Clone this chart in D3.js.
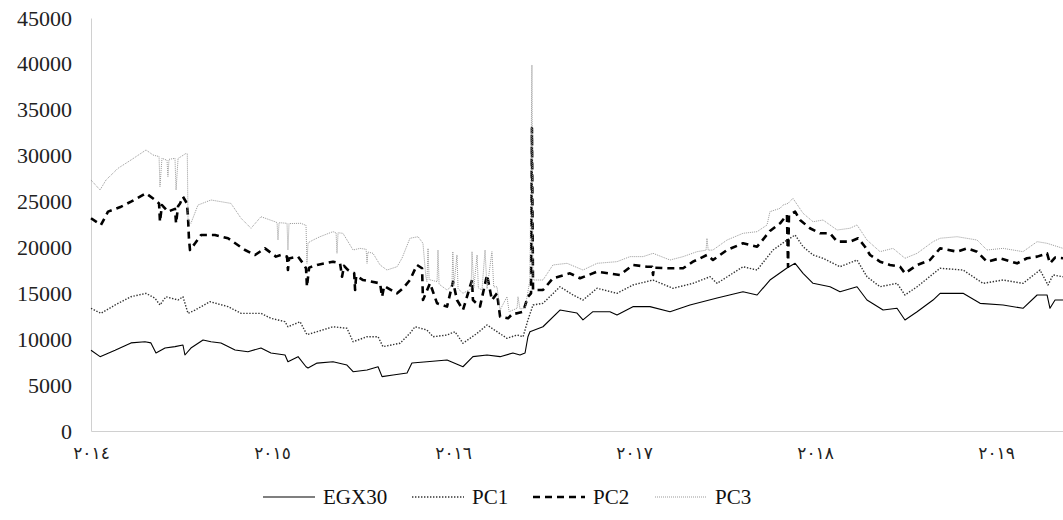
<!DOCTYPE html>
<html lang="en">
<head>
    <meta charset="UTF-8">
    <title>EGX30 and PCs</title>
    <style>
        body { margin: 0; background: #fff; }
        .ylab text { font-family: "Liberation Serif", "Times New Roman", serif; font-size: 22px; fill: #222; }
        .xlab text { font-family: "DejaVu Sans", sans-serif; font-size: 17px; fill: #222; letter-spacing: 3.5px; }
        .legend text { font-family: "Liberation Serif", "Times New Roman", serif; font-size: 21px; fill: #111; }
    </style>
</head>
<body>
<div id="chart"></div>
<script src="https://d3js.org/d3.v7.min.js"></script>
<script>

// ticks
const yTicks = [0, 5000, 10000, 15000, 20000, 25000, 30000, 35000, 40000, 45000];
const yearTicks = [2014, 2015, 2016, 2017, 2018, 2019];
const yearLabels = ["٢٠١٤", "٢٠١٥", "٢٠١٦", "٢٠١٧", "٢٠١٨", "٢٠١٩"];

// EGX30 (decimal year, value)
const egxDates = [2014.000, 2014.050, 2014.133, 2014.221, 2014.298, 2014.331, 2014.359, 2014.409, 2014.464, 2014.508,
    2014.519, 2014.552, 2014.619, 2014.663, 2014.718, 2014.796, 2014.867, 2014.939, 2014.994, 2015.072,
    2015.088, 2015.144, 2015.188, 2015.199, 2015.249, 2015.337, 2015.414, 2015.448, 2015.525, 2015.586,
    2015.608, 2015.669, 2015.746, 2015.773, 2015.856, 2015.967, 2016.055, 2016.110, 2016.188, 2016.260,
    2016.331, 2016.370, 2016.398, 2016.414, 2016.425, 2016.497, 2016.591, 2016.685, 2016.718, 2016.773,
    2016.867, 2016.906, 2016.994, 2017.088, 2017.199, 2017.309, 2017.459, 2017.602, 2017.680, 2017.751,
    2017.845, 2017.890, 2017.934, 2017.989, 2018.083, 2018.138, 2018.232, 2018.287, 2018.376, 2018.453,
    2018.497, 2018.564, 2018.652, 2018.691, 2018.818, 2018.912, 2019.039, 2019.149, 2019.227, 2019.282,
    2019.298, 2019.326, 2019.370];
const egxValues = [8800, 8100, 8800, 9600, 9730, 9600, 8500, 9040, 9190, 9370,
    8280, 9040, 9920, 9730, 9590, 8830, 8640, 9040, 8500, 8280,
    7550, 8100, 7000, 6860, 7400, 7550, 7190, 6460, 6650, 7000,
    5920, 6100, 6320, 7410, 7550, 7740, 7000, 8100, 8280, 8100,
    8500, 8280, 8500, 10270, 10820, 11360, 13180, 12850, 12100, 13000,
    13000, 12640, 13550, 13550, 13000, 13730, 14490, 15180, 14820, 16450,
    17760, 18270, 17180, 16090, 15720, 15180, 15720, 14270, 13180, 13370,
    12100, 13000, 14270, 15000, 15000, 13910, 13730, 13370, 14820, 14820,
    13370, 14270, 14270];

// PC1
const pc1Dates = [2014.000, 2014.055, 2014.133, 2014.221, 2014.304, 2014.354, 2014.381, 2014.414, 2014.481, 2014.508,
    2014.536, 2014.575, 2014.657, 2014.757, 2014.829, 2014.939, 2014.994, 2015.072, 2015.088, 2015.155,
    2015.193, 2015.249, 2015.337, 2015.414, 2015.448, 2015.525, 2015.586, 2015.613, 2015.707, 2015.762,
    2015.790, 2015.856, 2015.890, 2015.967, 2016.011, 2016.055, 2016.133, 2016.188, 2016.243, 2016.298,
    2016.354, 2016.387, 2016.414, 2016.442, 2016.497, 2016.591, 2016.663, 2016.718, 2016.796, 2016.906,
    2016.994, 2017.105, 2017.215, 2017.326, 2017.420, 2017.459, 2017.602, 2017.680, 2017.768, 2017.845,
    2017.862, 2017.890, 2017.934, 2017.989, 2018.044, 2018.138, 2018.232, 2018.287, 2018.359, 2018.453,
    2018.497, 2018.564, 2018.691, 2018.818, 2018.928, 2019.039, 2019.149, 2019.243, 2019.287, 2019.315,
    2019.370];
const pc1Values = [13370, 12820, 13730, 14630, 15000, 14460, 13730, 14630, 14270, 14630,
    12820, 13180, 14090, 13550, 12820, 12820, 12280, 11910, 11360, 11900,
    10500, 10820, 11360, 11190, 9730, 10270, 10270, 9190, 9560, 10640,
    11360, 11000, 10270, 10460, 10820, 9560, 10640, 11550, 10820, 10100,
    10460, 10270, 12100, 13730, 13910, 15720, 14820, 14270, 15550, 15000,
    15910, 16450, 15550, 16090, 16810, 16090, 17900, 17540, 19720, 20810,
    21000, 21360, 20080, 19180, 18820, 17900, 18630, 16810, 15720, 16090,
    14820, 15720, 17730, 17540, 16090, 16450, 16090, 17540, 15910, 17000,
    16810];

// PC2
const pc2Dates = [2014.000, 2014.055, 2014.094, 2014.166, 2014.221, 2014.304, 2014.354, 2014.376, 2014.381, 2014.392,
    2014.425, 2014.464, 2014.470, 2014.481, 2014.492, 2014.508, 2014.530, 2014.536, 2014.541, 2014.547,
    2014.575, 2014.608, 2014.685, 2014.757, 2014.851, 2014.906, 2014.961, 2015.022, 2015.050, 2015.083,
    2015.088, 2015.094, 2015.144, 2015.171, 2015.188, 2015.193, 2015.205, 2015.249, 2015.337, 2015.376,
    2015.387, 2015.398, 2015.420, 2015.454, 2015.459, 2015.465, 2015.503, 2015.597, 2015.608, 2015.620,
    2015.691, 2015.724, 2015.762, 2015.801, 2015.829, 2015.834, 2015.873, 2015.912, 2015.967, 2016.000,
    2016.022, 2016.055, 2016.105, 2016.110, 2016.149, 2016.188, 2016.215, 2016.243, 2016.260, 2016.304,
    2016.331, 2016.354, 2016.387, 2016.414, 2016.431, 2016.436, 2016.442, 2016.497, 2016.552, 2016.646,
    2016.702, 2016.796, 2016.923, 2016.994, 2017.072, 2017.100, 2017.105, 2017.110, 2017.182, 2017.271,
    2017.326, 2017.403, 2017.436, 2017.514, 2017.602, 2017.680, 2017.751, 2017.807, 2017.845, 2017.851,
    2017.856, 2017.890, 2017.917, 2017.972, 2018.028, 2018.083, 2018.122, 2018.193, 2018.238, 2018.276,
    2018.304, 2018.359, 2018.414, 2018.470, 2018.497, 2018.564, 2018.635, 2018.691, 2018.785, 2018.840,
    2018.895, 2018.950, 2019.022, 2019.116, 2019.171, 2019.227, 2019.282, 2019.298, 2019.326, 2019.370];
const pc2Values = [23180, 22450, 23900, 24440, 24990, 25900, 25170, 24800, 22800, 24620,
    23900, 24200, 22630, 24500, 24800, 25530, 24800, 23350, 21000, 19720,
    20450, 21360, 21360, 21000, 19720, 19180, 19900, 19000, 19180, 19000,
    17540, 18800, 19000, 18270, 17730, 15720, 17800, 18090, 18450, 18270,
    16810, 18000, 17540, 17200, 15360, 16900, 16450, 16090, 14630, 15800,
    15000, 15550, 16450, 18090, 17730, 14270, 16090, 13910, 13550, 16270,
    14270, 13180, 16450, 14270, 13550, 17000, 14270, 15000, 12460, 12280,
    12820, 12820, 13000, 14630, 15000, 33000, 15360, 15360, 16640, 17180,
    16640, 17360, 17000, 18090, 17900, 17900, 17000, 17800, 17730, 17730,
    18450, 19180, 18630, 19720, 20450, 20080, 21800, 22630, 23540, 17900,
    23540, 23900, 23000, 22090, 21540, 21540, 20630, 20630, 21000, 20080,
    19180, 18450, 18090, 17900, 17180, 18090, 18630, 19900, 19540, 19900,
    19540, 18450, 18820, 18270, 18820, 19000, 19360, 18270, 18900, 18820];

// PC3
const pc3Dates = [2014.000, 2014.050, 2014.083, 2014.149, 2014.221, 2014.304, 2014.343, 2014.376, 2014.381, 2014.392,
    2014.420, 2014.425, 2014.431, 2014.464, 2014.470, 2014.481, 2014.497, 2014.525, 2014.532, 2014.536,
    2014.552, 2014.591, 2014.663, 2014.773, 2014.829, 2014.884, 2014.939, 2015.017, 2015.028, 2015.033,
    2015.039, 2015.083, 2015.088, 2015.094, 2015.160, 2015.188, 2015.193, 2015.199, 2015.227, 2015.265,
    2015.337, 2015.354, 2015.359, 2015.365, 2015.392, 2015.448, 2015.486, 2015.520, 2015.525, 2015.530,
    2015.558, 2015.597, 2015.635, 2015.691, 2015.718, 2015.762, 2015.807, 2015.834, 2015.850, 2015.856,
    2015.862, 2015.868, 2015.912, 2015.917, 2015.923, 2015.967, 2015.994, 2015.999, 2016.005, 2016.022,
    2016.028, 2016.055, 2016.100, 2016.105, 2016.115, 2016.133, 2016.140, 2016.160, 2016.177, 2016.188,
    2016.215, 2016.225, 2016.243, 2016.260, 2016.298, 2016.310, 2016.354, 2016.359, 2016.370, 2016.398,
    2016.425, 2016.436, 2016.442, 2016.497, 2016.552, 2016.630, 2016.718, 2016.796, 2016.906, 2016.978,
    2017.050, 2017.105, 2017.199, 2017.271, 2017.348, 2017.398, 2017.403, 2017.410, 2017.436, 2017.514,
    2017.602, 2017.680, 2017.735, 2017.751, 2017.807, 2017.823, 2017.851, 2017.878, 2017.934, 2017.989,
    2018.044, 2018.122, 2018.193, 2018.232, 2018.287, 2018.359, 2018.431, 2018.497, 2018.564, 2018.652,
    2018.691, 2018.785, 2018.895, 2018.950, 2019.039, 2019.149, 2019.227, 2019.282, 2019.370];
const pc3Values = [27350, 26260, 27350, 28620, 29530, 30620, 30070, 29900, 26620, 29710,
    29500, 27710, 29600, 29710, 26260, 29700, 29890, 30250, 30200, 23000,
    22630, 24620, 25170, 24800, 23180, 22090, 23350, 22800, 22700, 20810,
    22700, 22630, 19720, 22600, 22630, 22400, 18270, 20500, 20810, 21170,
    21720, 21600, 19360, 21600, 21540, 19720, 19900, 19800, 18270, 19500,
    19360, 18090, 17540, 17900, 18820, 21000, 21170, 20450, 16800, 16270,
    19900, 16500, 16270, 19720, 16000, 15360, 15800, 19540, 15800, 19180,
    15500, 15000, 15500, 19540, 15600, 19180, 15600, 15360, 19720, 15500,
    19540, 15700, 15720, 13180, 14630, 13000, 13370, 14630, 13300, 13370,
    16450, 39880, 16450, 16450, 18090, 18270, 17540, 18270, 18450, 19000,
    19000, 19360, 18630, 19000, 19540, 19700, 21000, 19700, 19720, 20810,
    21540, 21720, 22450, 23900, 24260, 24620, 24800, 25350, 23720, 22800,
    22990, 21900, 22090, 22450, 20810, 19540, 19900, 18820, 19360, 20630,
    21000, 21170, 20810, 19720, 19900, 19540, 20630, 20450, 19900];

const series = [
    {name: "EGX30", dates: egxDates, values: egxValues, color: "#000", width: 1.1, dash: null},
    {name: "PC1", dates: pc1Dates, values: pc1Values, color: "#333", width: 1.4, dash: "1.4 1.6"},
    {name: "PC2", dates: pc2Dates, values: pc2Values, color: "#000", width: 2.6, dash: "7 5"},
    {name: "PC3", dates: pc3Dates, values: pc3Values, color: "#999", width: 1, dash: "1 1"}
];

const W = 1063, H = 520;
const margin = {top: 18, right: 0, bottom: 89, left: 91};
const width = W - margin.left - margin.right,
      height = H - margin.top - margin.bottom;

const svg = d3.select("#chart")
  .append("svg")
    .attr("width", W)
    .attr("height", H)
  .append("g")
    .attr("transform", `translate(${margin.left},${margin.top})`);

const x = d3.scaleLinear().domain([2014, 2019.37]).range([0, width]);
const y = d3.scaleLinear().domain([0, 45000]).range([height, 0]);

// Y axis
const yAxis = svg.append("g")
    .attr("class", "ylab")
    .call(d3.axisLeft(y).tickValues(yTicks).tickFormat(d3.format("d")).tickSize(0).tickPadding(19));
yAxis.select(".domain").attr("stroke", "#d0d0d0");

// X axis
const xAxis = svg.append("g")
    .attr("class", "xlab")
    .attr("transform", `translate(0,${height})`)
    .call(d3.axisBottom(x).tickValues(yearTicks).tickFormat((d, i) => yearLabels[i]).tickSize(0).tickPadding(16));
xAxis.select(".domain").attr("stroke", "#d0d0d0");
xAxis.selectAll("text").attr("direction", "ltr");

// lines
series.forEach(s => {
    const pts = s.dates.map((d, i) => [d, s.values[i]]);
    svg.append("path")
        .datum(pts)
        .attr("fill", "none")
        .attr("stroke", s.color)
        .attr("stroke-width", s.width)
        .attr("stroke-dasharray", s.dash)
        .attr("stroke-linejoin", "round")
        .attr("d", d3.line().x(d => x(d[0])).y(d => y(d[1])));
});

// legend
const legendX = [263, 412, 533, 655];
const legend = d3.select("svg").append("g").attr("class", "legend");
series.forEach((s, i) => {
    legend.append("line")
        .attr("x1", legendX[i]).attr("x2", legendX[i] + 52)
        .attr("y1", 497).attr("y2", 497)
        .attr("stroke", s.color)
        .attr("stroke-width", s.width)
        .attr("stroke-dasharray", s.dash);
    legend.append("text")
        .attr("x", legendX[i] + 60)
        .attr("y", 504)
        .text(s.name);
});

</script>
</body>
</html>
